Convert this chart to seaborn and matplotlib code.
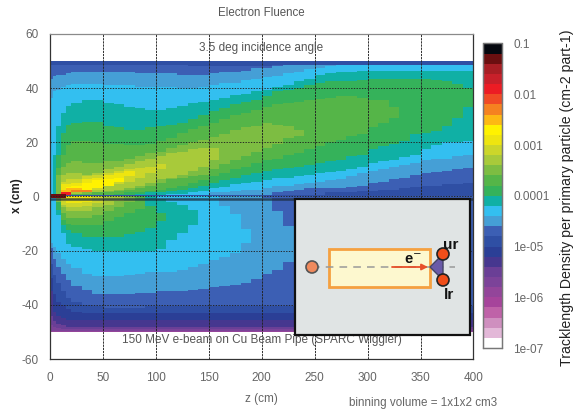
import numpy as np
import pandas as pd
import matplotlib
matplotlib.use("Agg")
import matplotlib.pyplot as plt
from matplotlib.colors import ListedColormap, LogNorm
from matplotlib.patches import Rectangle, Circle, Polygon
import seaborn as sns

# colour bands of the scale, bottom (1e-7) to top (0.1)
band_colors = ["#ffffff", "#e3b8d8", "#cf8fbf", "#bf62a8", "#a6449b", "#93459a", "#7c4399", "#6a3f96",
               "#46378f", "#2b3f96", "#2f4fa4", "#3c5fb4", "#459fd6", "#33bff0", "#10b0a5", "#35b25a",
               "#55b548", "#7dbd42", "#a8ca3a", "#ccd62a", "#eee510", "#fff200", "#fdb913", "#f58220",
               "#f04a25", "#ec1c24", "#c8202a", "#a81e24", "#6b0f10", "#05080f"]

# z columns (cm) at which the contour edges were read
zs = [0, 3, 6, 10, 15, 20, 30, 40, 50, 60, 70, 80, 90, 100, 110, 120, 130, 140, 150, 160, 170, 180,
      190, 200, 210, 220, 230, 240, 250, 260, 270, 280, 290, 300, 310, 320, 330, 340, 350, 360, 370, 380, 390]

# upper half, x edges (cm) of each contour: top and bottom
blue_top = [48.3, 48.3, 48.3, 48.3, 48.3, 48.3, 48.3, 48.3, 48.3, 48.3, 48.3, 48.3, 48.3, 48.3, 48.3, 48.3, 48.2,
            48, 48, 48, 48, 48, 48, 48.2, 48.3, 48.4, 48.5, 48.6, 48.6, 48.7, 48.7, 48.7, 48.7, 48.7, 48.7, 48.7, 48.7, 48.7, 48.7, 48.7, 48.7, 48.7, 48.7]
blue_bot = [.5, .5, .5, .5, .5, .5, .5, .5, .5, .5, .5, .5, .5, .5, .5, .5, .5, .5, .5, .5, .5, .5, .5, .5, .5, .5, .5, .5, .5,
            1.3, 1.5, 1.7, 1.9, 2, 2.3, 2.6, 2.9, 3.4, 3.8, 4, 4.3, 4.6, 5]
steel_top = [43.7, 44.3, 44.9, 44.9, 45.5, 46.1, 46.1, 46.1, 46.1, 46.1, 46.1, 45.6, 45.5, 45.5, 45.5, 45.2, 44.9, 45, 45.5, 45.8,
             46.1, 46.5, 47.4, 47.6, 48, 48.3, 48.5, 48.6, 48.6, 48.7, 48.7, 48.7, 48.7, 48.7, 48.7, 48.7, 48.7, 48.7, 48.7, 48.7, 48.7, 48.7, 48.7]
steel_bot = [.5, .5, .5, .5, .5, .5, .5, .5, .5, .5, .5, .5, .5, .5, .5, .5, .5, .5, .5, .5, .5, .5, .5, .5,
             1.3, 2.1, 2.6, 2.9, 3, 3, 3.2, 3.5, 4.2, 5, 5.7, 6.4, 7, 8, 8.7, 9.2, 9.5, 10, 10.5]
cyan_top = [36.3, 38.8, 39.7, 40.6, 41, 41.6, 41.6, 41.6, 41.2, 41, 40.8, 40.6, 40.6, 40.6, 40.4, 40.2, 40.2, 40.6, 41.2, 41.8,
            42.2, 43, 43.4, 44.2, 44.6, 45.5, 46.1, 47, 47.6, 48, 48.4, 48.5, 48.5, 48.5, 48.5, 48.5, 48.5, 48.5, 48.5, 48.5, 48.5, 48.5, 48.5]
cyan_bot = [.5, .5, .5, .5, .5, .5, .5, .5, .5, .5, .5, .5, .5, .5, .5, .5, .5, .6, 1.3, 1.6, 2.2, 2.5, 2.7, 3.1, 3.8, 4.2, 4.7,
            5.2, 5.6, 6.2, 6.4, 7.5, 8.5, 9.3, 10, 10.8, 11.5, 12.5, 13.6, 14, 14.2, 15, 15.5]
teal_top = [15.5, 25.9, 30.8, 33.3, 34.5, 35.7, 35.6, 34.5, 33.9, 33, 32.6, 32, 32, 32.5, 33.3, 34.5, 35, 35.7, 36.5, 37.5, 38.2,
            39, 39.5, 40.3, 41, 42.5, 43.6, 44.9, 45.3, 45.8, 46.2, 46.7, 46.7, 46.7, 46.7, 46.7, 46.7, 46.7, 46.7, 46.7, 46.7, 46.7]
teal_bot = [.5, .5, .5, .5, .5, .5, .5, .5, .5, .5, .5, .5, .7, .9, 1.1, 1.3, 2.2, 3.2, 3.7, 4.4, 5, 5.6, 6, 6.9, 7.2, 7.5, 8, 8.7,
            9, 9.3, 10, 11, 12.4, 13, 13.5, 14.5, 15.5, 17.3, 18.8, 19.8, 20.2, 20.4]
green_top = [15.5, 23.4, 26.5, 27.1, 27.7, 27.4, 25.9, 25.3, 24.7, 24.4, 25.3, 25.9, 26.6, 27.1, 28.5, 30, 31.4, 32.6, 33.9, 35,
             35.7, 37, 38.8, 39.4, 40, 41, 41.8, 42.3, 42.7, 42.5, 43.1, 43.7, 43.7, 43.7, 43.7, 43.7, 43.5, 43, 42.5, 41.5, 40]
green_bot = [.5, .5, .5, .5, .5, .5, .5, .6, .7, 1, 1.3, 1.6, 2, 2.6, 3.2, 4, 5, 5.8, 7.2, 8, 8.7, 9.6, 9.9, 10.6, 11, 11.5, 12.4, 13,
             13.6, 15, 15.6, 17.3, 18.3, 19.3, 20.5, 23, 23.3, 24, 26, 29, 33]
green2_top = [10.6, 15.5, 19.1, 20.6, 20.4, 20, 19.6, 19.3, 19.1, 19.1, 19.6, 20.6, 21.6, 23.4, 25, 26, 27.1, 28.5, 30.2, 31, 32, 33,
              33.9, 34.6, 35.1, 35.5, 36, 36.5, 36.9, 36.9, 36.3, 35.7, 35.7, 33]
green2_bot = [.6, .6, .6, .6, .6, .6, .6, .8, 1.3, 1.7, 2, 2.6, 3.2, 4, 5, 6, 7.5, 8.5, 10, 11.2, 12.4, 13.5, 14.2, 15.5, 16.1, 17.3,
              18.5, 20, 21, 22.3, 23, 25.3, 27, 29]
olive_top = [8, 11.2, 12.4, 12.8, 12.4, 12.4, 12.8, 13.2, 14.2, 15, 16.1, 16.7, 18, 18.8, 20, 21, 22.2, 23, 24.7, 25.5, 25.9, 26.9, 26.5, 25.9, 24.4]
olive_bot = [.8, .8, .8, .9, 1, 1.3, 1.7, 2.2, 2.6, 3.2, 3.8, 5, 6.3, 6.9, 7.5, 8, 10, 12, 13.6, 15, 16.5, 18, 19.5, 21.6, 22.5]
lime_top = [8.1, 8.7, 8.5, 8.1, 8.7, 9.9, 10.8, 11.8, 13, 14.2, 14.8, 15.8, 16.7, 17.7, 18, 18]
lime_bot = [.9, 1, 1.1, 1.3, 1.5, 1.9, 2.3, 2.9, 3.8, 5, 6.3, 7, 7.8, 9.5, 11, 13.6]
lemon_top = [5.6, 6.5, 6.3, 7.5, 7.9, 8.7, 9.3, 9.9, 10.6, 11.2, 11.8]
lemon_bot = [1, 1.2, 1.4, 1.8, 2.6, 3.8, 4.6, 5.6, 7, 8.7, 9.9]
yellow_top = [4.4, 4.7, 5, 6.3, 7.1, 8.1, 8.4, 9.3]
yellow_bot = [1.2, 1.4, 1.8, 2.9, 3.8, 5, 6.3, 7.5]
bright_top = [3.5, 4.2, 5.2, 5.8, 6.5, 7]
bright_bot = [1.6, 1.6, 1.8, 3, 4, 5.6]
gold_top = [2.4, 2.8, 2.8, 2.3]
gold_bot = [1, 1.2, 1.4, 1.5]
orange_top = [1.7, 2.4, 2.4]
orange_bot = [1.2, 1.3, 1.5]
red_top = [1.3, 1.5]
red_bot = [.3, .3]
darkred_top = [1, 1, 1, 1]
darkred_bot = [-.3, -.3, -.3, -.3]

# lower half, every band runs on to the right under the inset
l_magenta_bot = [-49.5, -49.5, -49.6, -49.7, -49.7, -49.7, -49.7, -49.7, -49.7]
l_violet_bot = [-47.5, -48, -48.7, -49, -49.2, -49.2, -49.2, -49.2, -49.2]
l_indigo_bot = [-44, -46, -47, -47.7, -48, -48, -48, -48, -48]
l_navy_bot = [-35, -42.6, -44, -45, -45.4, -45.7, -45.7, -45.7, -45.7]
l_navy2_bot = [-30, -36, -39, -40, -41.5, -42.5, -43, -43, -43]
l_blue_bot = [-25, -29, -32, -35.2, -37.7, -39, -40.2, -40.6, -40.8, -40.8, -40.8, -40.8, -40.7, -40.7, -40.7, -40.6, -40.6, -40.6, -40.6, -40.5]
l_steel_bot = [-19, -23, -26, -28.5, -31, -32.8, -34.6, -35.8, -36, -36, -35.8, -35.6, -35.3, -35, -35.2, -34.8, -34.5, -34, -33.6, -33.2, -32.7, -31.8,
               -30.3, -28.5, -26.8, -24]
l_steel_top = [0, 0, 0, 0, 0, 0, 0, 0, 0, 0, 0, 0, 0, 0, 0, 0, 0, 0, 0, 0, 0, 0, 0, -.5, -5.7, -11]
l_cyan_bot = [-17, -18.6, -21, -23, -24.8, -26.4, -28.5, -29.7, -29.3, -29.7, -29, -28.5, -27.9, -27.9, -27.8, -26.8, -25.8, -24.8, -23.5, -22.5, -21, -17]
l_cyan_top = [0, 0, 0, 0, 0, 0, 0, 0, 0, 0, 0, 0, 0, 0, 0, 0, 0, 0, 0, -3.5, -6.3, -12]
l_teal_bot = [-7, -13.7, -17.4, -18.6, -19.5, -20, -20, -20, -20, -20, -20, -19.3, -16, -13.7, -10.6]
l_teal_top = [0, 0, 0, 0, 0, 0, 0, 0, 0, 0, 0, -1, -2, -3, -5]
l_green_bot = [-5, -10.5, -12.7, -13.7, -14.8, -15, -15, -15, -14, -13, -11.5, -9]
l_green_top = [0, 0, 0, 0, 0, 0, 0, -.5, -1, -2, -3.5, -6]
l_green2_bot = [-8.5, -10, -10.5, -10.5, -10.5, -9, -7.5, -6, -4.5]
l_olive_bot = [-2, -6, -7.8, -8, -8, -7, -5.7, -4, -2]
l_lime_bot = [-4, -5.7, -5.7, -5.5, -4, -3, -1.5]
l_lemon_bot = [-3, -4, -4, -3.5, -2.5]
l_yellow_bot = [-1.6, -2.5, -2.5, -2]

x_ticks = [60, 40, 20, 0, -20, -40, -60]
z_ticks = [0, 50, 100, 150, 200, 250, 300, 350, 400]
cbar_ticks = [1e-7, 1e-6, 1e-5, 1e-4, 1e-3, 1e-2, 1e-1]
cbar_labels = ["1e-07", "1e-06", "1e-05", "0.0001", "0.001", "0.01", "0.1"]

# (level, first z column, top edges, bottom edges)
upper = [(11, 0, blue_top, blue_bot), (12, 0, steel_top, steel_bot), (13, 0, cyan_top, cyan_bot),
         (14, 1, teal_top, teal_bot), (15, 2, green_top, green_bot), (16, 2, green2_top, green2_bot),
         (17, 2, olive_top, olive_bot), (18, 3, lime_top, lime_bot), (19, 3, lemon_top, lemon_bot),
         (20, 3, yellow_top, yellow_bot), (21, 4, bright_top, bright_bot), (22, 3, gold_top, gold_bot),
         (23, 4, orange_top, orange_bot), (25, 3, red_top, red_bot), (28, 0, darkred_top, darkred_bot)]
lower = [(6, 0, None, l_magenta_bot), (7, 0, None, l_violet_bot), (8, 0, None, l_indigo_bot),
         (9, 0, None, l_navy_bot), (10, 0, None, l_navy2_bot), (11, 0, None, l_blue_bot),
         (12, 0, l_steel_top, l_steel_bot), (13, 0, l_cyan_top, l_cyan_bot), (14, 2, l_teal_top, l_teal_bot),
         (15, 2, l_green_top, l_green_bot), (16, 3, None, l_green2_bot), (17, 2, None, l_olive_bot),
         (18, 3, None, l_lime_bot), (19, 3, None, l_lemon_bot), (20, 3, None, l_yellow_bot)]

z_cells = np.arange(0.5, 400, 1.0)
x_cells = np.arange(59.75, -60, -0.5)
levels = np.full((len(x_cells), len(z_cells)), np.nan)
levels[(x_cells <= 50) & (x_cells > 0), :] = 10
levels[(x_cells <= 0) & (x_cells >= -50), :] = 5


def paint(level, first, tops, bots):
    # each column keeps the edges read at its z until the next read z
    for i, z0 in enumerate(zs[first:first + len(bots)]):
        z1 = zs[first + i + 1] if first + i + 1 < len(zs) else 400
        top = tops[i] if tops is not None else 0
        on_z = (z_cells >= z0) & (z_cells < z1)
        on_x = (x_cells <= top) & (x_cells >= bots[i])
        levels[np.ix_(on_x, on_z)] = level


for level, first, tops, bots in lower:
    if level <= 11:
        # flat strips, last read edge holds to the right side
        bots = bots + [bots[-1]] * (len(zs) - len(bots))
    paint(level, first, tops, bots)
for level, first, tops, bots in upper:
    paint(level, first, tops, bots)

density = 10 ** (-7 + 0.2 * (levels + 0.5))
df = pd.DataFrame(density, index=x_cells, columns=z_cells)

sns.set_style("white")
plt.rcParams["font.family"] = ["Liberation Sans", "DejaVu Sans"]
W, H = 574, 411
text_gray = "#666666"

fig = plt.figure(figsize=(W / 100, H / 100), dpi=100)
ax = fig.add_axes([50 / W, 1 - 359 / H, 423.5 / W, 325 / H])
cax = fig.add_axes([483 / W, 1 - 348 / H, 19 / W, 304.5 / H])

sns.heatmap(df, ax=ax, cbar_ax=cax, cmap=ListedColormap(band_colors), norm=LogNorm(1e-7, 1e-1),
            xticklabels=False, yticklabels=False, rasterized=True)
ax.set_xlabel("")
ax.set_ylabel("")


def row(x):
    return (60 - x) * 2


ax.set_xticks(z_ticks)
ax.set_xticklabels([str(v) for v in z_ticks], color=text_gray, fontsize=8.5)
ax.set_yticks([row(v) for v in x_ticks])
ax.set_yticklabels([str(v) for v in x_ticks], color=text_gray, fontsize=8.5)
ax.tick_params(length=0, pad=9, axis="x")
ax.tick_params(length=0, pad=8, axis="y")

for v in z_ticks[1:-1]:
    ax.axvline(v, color="#222222", lw=0.65, ls=(0, (2.5, 1)), zorder=5)
for v in x_ticks[1:-1]:
    ax.axhline(row(v), color="#222222", lw=0.65, ls=(0, (1.5, 1.5)), zorder=5)
# dark beam pipe line just under x=0
ax.axhline(row(-0.8), color="#1c2a3c", lw=1.8, alpha=0.75, zorder=4)

for name, sp in ax.spines.items():
    sp.set_visible(True)
    sp.set_linewidth(0.9)
    sp.set_color("#333333")
ax.spines["top"].set_color("#8a8a8a")

cax.set_yticks(cbar_ticks)
cax.set_yticklabels(cbar_labels, color=text_gray, fontsize=8.5)
cax.set_yticks([3 * t for t in cbar_ticks[:-1]], minor=True)
cax.set_yticklabels([], minor=True)
cax.tick_params(axis="y", which="major", direction="in", left=True, right=True, length=3, width=0.7, pad=8, color="#222222")
cax.tick_params(axis="y", which="minor", direction="in", left=True, right=True, length=3, width=0.7, color="#222222")
for sp in cax.spines.values():
    sp.set_visible(True)
    sp.set_linewidth(0.9)
    sp.set_color("#777777")

# overlay in pixels for texts and inset sketch
ov = fig.add_axes([0, 0, 1, 1], facecolor="none")
ov.set_xlim(0, W)
ov.set_ylim(H, 0)
ov.axis("off")

ov.text(261, 13, "Electron Fluence", ha="center", va="center", fontsize=8.3, color="#555555")
ov.text(261, 48, "3.5 deg incidence angle", ha="center", va="center", fontsize=8.5, color="#555555")
ov.text(262, 340, "150 MeV e-beam on Cu Beam Pipe (SPARC Wiggler)", ha="center", va="center", fontsize=8.5, color="#555555")
ov.text(261, 399, "z (cm)", ha="center", va="center", fontsize=8.5, color=text_gray)
ov.text(423, 403, "binning volume = 1x1x2 cm3", ha="center", va="center", fontsize=8.4, color=text_gray)
ov.text(17, 196, "x (cm)", rotation=90, ha="center", va="center", fontsize=8.5, fontweight="bold", color="#222222")
ov.text(567, 198, "Tracklength Density per primary particle (cm-2 part-1)", rotation=90, ha="center", va="center",
        fontsize=10.2, color="#222222")

ov.add_patch(Rectangle((295, 199), 175, 136, fc="#e0e4e4", ec="#111111", lw=1.6, zorder=6))
ov.add_patch(Rectangle((329, 249), 101, 38, fc="#fdf8cf", ec="#f5a040", lw=2, zorder=7))
ov.plot([312, 455], [267, 267], color="#999999", lw=1.1, ls=(0, (5, 4)), zorder=8)
ov.annotate("", xy=(428, 267), xytext=(392, 267), zorder=9,
            arrowprops=dict(arrowstyle="-|>", color="#e8502a", lw=1.3, mutation_scale=9, shrinkA=0, shrinkB=0))
ov.add_patch(Polygon([(430, 267), (443, 254), (443, 280)], fc="#6a5aa8", ec="#444466", lw=1, zorder=9))
ov.add_patch(Circle((312, 267), 6, fc="#f08a5d", ec="#555555", lw=1.2, zorder=9))
ov.add_patch(Circle((443, 254), 6, fc="#f04e1a", ec="#222222", lw=1.2, zorder=10))
ov.add_patch(Circle((443, 280), 6, fc="#f04e1a", ec="#222222", lw=1.2, zorder=10))
ov.text(451, 245, "ur", ha="center", va="center", fontsize=11, fontweight="bold", color="#111111", zorder=11)
ov.text(449, 295, "lr", ha="center", va="center", fontsize=11, fontweight="bold", color="#111111", zorder=11)
ov.text(413, 260, "e$^{-}$", ha="center", va="center", fontsize=10.5, fontweight="bold", color="#111111", zorder=11)

fig.savefig("out.png", dpi=100)
